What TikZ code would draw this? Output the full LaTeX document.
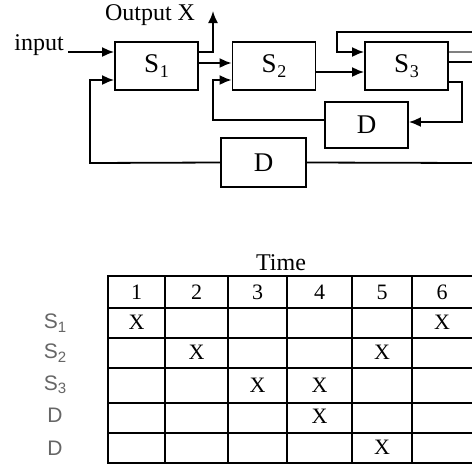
\documentclass[tikz,border=0pt]{standalone}
\usepackage{fontspec}
\setmainfont{Liberation Serif}
\newfontfamily\lsans{Liberation Sans}
\usetikzlibrary{arrows.meta,calc}
\begin{document}
\begin{tikzpicture}[x=0.5pt,y=-0.5pt,
  blk/.style={draw,line width=0.9pt,minimum width=41.5pt,minimum height=24pt,inner sep=0pt,font=\fontsize{13.5}{15}\selectfont},
  conn/.style={line width=0.9pt},
  arr/.style={line width=0.9pt,-{Latex[length=6pt,width=5pt]}},
  lbl/.style={font=\fontsize{12}{14}\selectfont,inner sep=0pt},
  cell/.style={font=\fontsize{11}{13}\selectfont,inner sep=0pt},
  rowl/.style={font=\lsans\fontsize{10.5}{12}\selectfont,text=black!60,inner sep=0pt},
  grid/.style={line width=0.8pt}]
\useasboundingbox (0,0) rectangle (472,467);
\newcommand{\Sx}[1]{S\kern0.3pt\raisebox{-0.35ex}{\fontsize{9}{9}\selectfont #1}}
% blocks
\node[blk] (s1) at (156.5,66) {\Sx{1}};
\node[blk] (s2) at (274,66) {\Sx{2}};
\node[blk] (s3) at (406.5,66) {\Sx{3}};
\node[blk,minimum height=23pt] (d1) at (366.5,125) {D};
\node[blk,minimum width=42.5pt,minimum height=24.5pt] (d2) at (263.5,162.5) {D};
% labels
\node[lbl] (inl) at (39,45) {input};
\node[lbl] (outl) at (150,15) {Output X};
% free ends
\coordinate (inp) at (68,52);
\coordinate (oup) at (213,11);
\coordinate (eTop) at (472,32);
\coordinate (eA) at (472,52);
\coordinate (eB) at (472,62);
\coordinate (eC) at (472,163);
% connectors
\draw[arr] (inp) -- (inp -| s1.west);
\draw[arr] (d2.west) -- (90,163) -- (90,80) -- (s1.west |- 0,80);
\draw[arr] (s1.east |- 0,52) -- (213,52) -- (oup);
\draw[arr] (s1.east |- 0,63) -- (s2.west |- 0,63);
\draw[arr] (d1.west |- 0,120) -- (213,120) -- (213,80) -- (s2.west |- 0,80);
\draw[arr] (s2.east |- 0,72) -- (s3.west |- 0,72);
\draw[arr] (eTop) -- (337,32) -- (337,52) -- (s3.west |- 0,52);
\draw[conn,black!50] (s3.east |- 0,52) -- (eA);
\draw[conn] (s3.east |- 0,62) -- (eB);
\draw[arr] (s3.east |- 0,82) -- (462,82) -- (462,122) -- (d1.east |- 0,122);
\draw[conn] (d2.east) -- (eC);
% table
\node[lbl] (time) at (281,263) {Time};
\draw[line width=1.2pt] (472,276) -- (108,276) -- (108,463) -- (472,463);
\foreach \y in {308,338,368,403,433} \draw[grid] (108,\y) -- (472,\y);
\foreach \x in {165,228,287,352,412} \draw[grid] (\x,276) -- (\x,463);
\foreach \n/\x in {1/136.5,2/196.5,3/257.5,4/319.5,5/382,6/442}
  \node[cell] (h\n) at (\x,292) {\n};
\node[rowl] (r1) at (55,323) {S\raisebox{-0.3ex}{\fontsize{7.5}{8}\selectfont 1}};
\node[rowl] (r2) at (55,353) {S\raisebox{-0.3ex}{\fontsize{7.5}{8}\selectfont 2}};
\node[rowl] (r3) at (55,385) {S\raisebox{-0.3ex}{\fontsize{7.5}{8}\selectfont 3}};
\node[rowl] (r4) at (55,415) {D};
\node[rowl] (r5) at (55,448) {D};
\node[cell] (x11) at (136.5,322) {X};
\node[cell] (x16) at (442,322) {X};
\node[cell] (x22) at (196.5,352) {X};
\node[cell] (x25) at (382,352) {X};
\node[cell] (x33) at (257.5,385) {X};
\node[cell] (x34) at (319.5,385) {X};
\node[cell] (x44) at (319.5,416) {X};
\node[cell] (x55) at (382,447) {X};
\end{tikzpicture}
\end{document}
